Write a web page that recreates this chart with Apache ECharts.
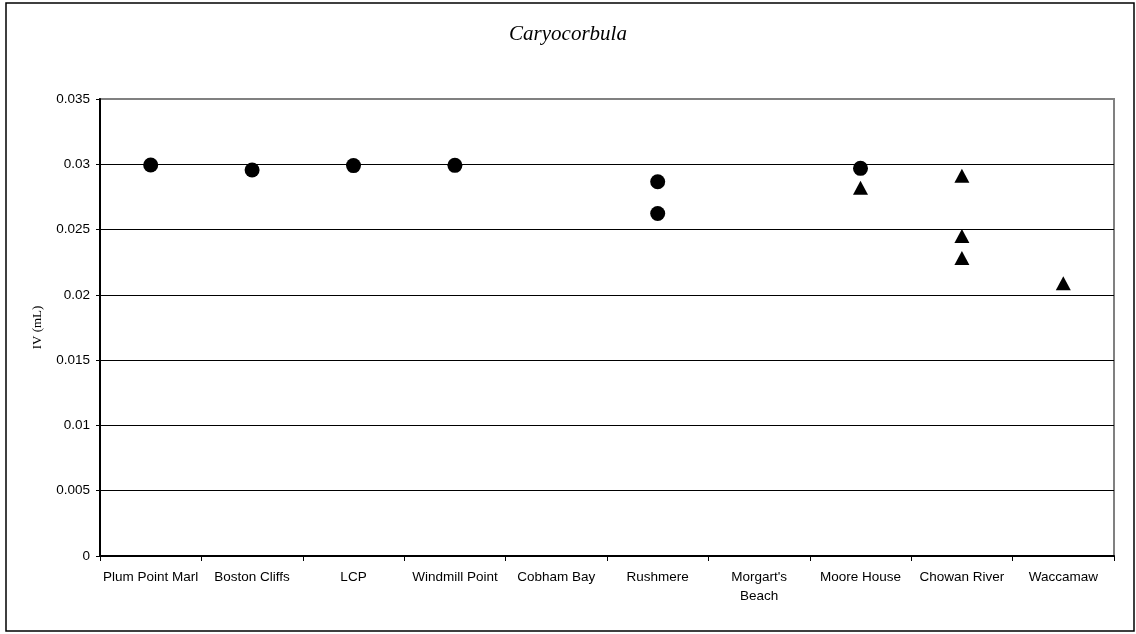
<!DOCTYPE html>
<html>
<head>
<meta charset="utf-8">
<script src="https://cdn.jsdelivr.net/npm/echarts@6/dist/echarts.min.js"></script>
<style>
  html, body { margin: 0; padding: 0; background: #fff; }
  #chart { width: 1136px; height: 634px; }
</style>
</head>
<body>
<div id="chart"></div>
<script>
// Sites along the category axis
const sites = ['Plum Point Marl', 'Boston Cliffs', 'LCP', 'Windmill Point', 'Cobham Bay',
               'Rushmere', "Morgart's Beach", 'Moore House', 'Chowan River', 'Waccamaw'];

// Circle-marker measurements: [site, IV]
const circleSites  = ['Plum Point Marl', 'Boston Cliffs', 'LCP', 'Windmill Point', 'Rushmere', 'Rushmere', 'Moore House'];
const circleValues = [0.02995, 0.02956, 0.0299, 0.02992, 0.02866, 0.02623, 0.02969];

// Triangle-marker measurements: [site, IV]
const triangleSites  = ['Moore House', 'Chowan River', 'Chowan River', 'Chowan River', 'Waccamaw'];
const triangleValues = [0.0282, 0.02912, 0.02451, 0.02282, 0.02089];

// Y-axis ticks
const yTicks = [0, 0.005, 0.01, 0.015, 0.02, 0.025, 0.03, 0.035];

const pairs = (names, vals) => names.map((n, i) => [n, vals[i]]);

const chart = echarts.init(document.getElementById('chart'), null, { renderer: 'canvas' });

const sans = 'Liberation Sans, Arial, sans-serif';
const serif = 'Liberation Serif, Times New Roman, serif';

// Gridlines are black except the topmost one, which is left to the grey frame
const gridColors = yTicks.map((t, i) => (i === yTicks.length - 1 ? 'rgba(0,0,0,0)' : '#000'));

chart.setOption({
  animation: false,
  backgroundColor: '#fff',
  title: {
    text: 'Caryocorbula',
    left: 'center',
    top: 19,
    textStyle: { fontFamily: serif, fontStyle: 'italic', fontWeight: 'normal', fontSize: 21, color: '#000' }
  },
  graphic: [{
    type: 'rect',
    shape: { x: 6, y: 3, width: 1128, height: 628 },
    style: { fill: 'none', stroke: '#000', lineWidth: 1.5 },
    silent: true, z: -1
  }],
  grid: {
    left: 100, right: 22, top: 99, bottom: 78,
    show: true, borderColor: '#808080', borderWidth: 2, backgroundColor: '#fff'
  },
  xAxis: {
    type: 'category',
    data: sites,
    boundaryGap: true,
    axisLine: { lineStyle: { color: '#000', width: 2 } },
    axisTick: { show: true, length: 5, alignWithLabel: false, lineStyle: { color: '#000', width: 1 } },
    axisLabel: {
      interval: 0, margin: 12, color: '#000', fontFamily: sans, fontSize: 13.5, lineHeight: 19,
      formatter: v => v.replace("Morgart's ", "Morgart's\n")
    },
    splitLine: { show: false }
  },
  yAxis: {
    type: 'value',
    min: yTicks[0],
    max: yTicks[yTicks.length - 1],
    interval: yTicks[1] - yTicks[0],
    name: 'IV (mL)',
    nameLocation: 'middle',
    nameGap: 56,
    nameTextStyle: { fontFamily: serif, fontSize: 13, color: '#000' },
    axisLine: { show: true, lineStyle: { color: '#000', width: 2 } },
    axisTick: { show: true, length: 4, lineStyle: { color: '#000', width: 1 } },
    axisLabel: {
      margin: 10, color: '#000', fontFamily: sans, fontSize: 13.5,
      formatter: v => String(+v.toFixed(3))
    },
    splitLine: { show: true, lineStyle: { color: gridColors, width: 1 } }
  },
  series: [
    {
      name: 'circles',
      type: 'scatter',
      symbol: 'circle',
      symbolSize: 15,
      itemStyle: { color: '#000', opacity: 1 },
      data: pairs(circleSites, circleValues)
    },
    {
      name: 'triangles',
      type: 'scatter',
      symbol: 'triangle',
      symbolSize: [15, 14],
      itemStyle: { color: '#000', opacity: 1 },
      data: pairs(triangleSites, triangleValues)
    }
  ]
});
</script>
</body>
</html>
